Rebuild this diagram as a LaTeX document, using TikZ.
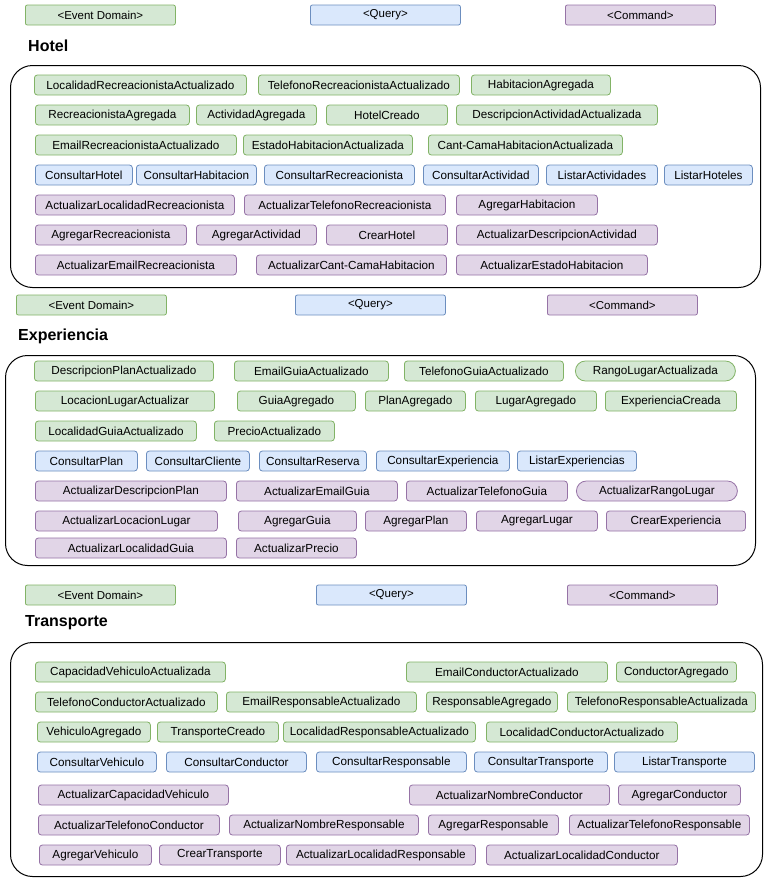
\documentclass[tikz,border=0pt]{standalone}
\usepackage{fontspec}
\setmainfont{Liberation Sans}
\definecolor{evfill}{HTML}{D5E8D4}
\definecolor{evline}{HTML}{82B366}
\definecolor{qrfill}{HTML}{DAE8FC}
\definecolor{qrline}{HTML}{6C8EBF}
\definecolor{cmfill}{HTML}{E1D5E7}
\definecolor{cmline}{HTML}{9673A6}
\tikzset{
  box/.style={draw, rounded corners=3pt, line width=0.8pt, minimum height=20pt,
    inner sep=0pt, anchor=west, font=\fontsize{11.7}{13}\selectfont},
  ev/.style={box, fill=evfill, draw=evline, minimum width=#1},
  qr/.style={box, fill=qrfill, draw=qrline, minimum width=#1},
  cm/.style={box, fill=cmfill, draw=cmline, minimum width=#1},
  capsule/.style={rounded corners=10pt},
  legend/.style={box, rounded corners=2pt, font=\fontsize{11.5}{13}\selectfont, minimum width=150pt},
  ctx/.style={draw, fill=white, line width=1pt, rounded corners=22pt, inner sep=0pt, anchor=north west},
  title/.style={anchor=west, inner sep=0pt, font=\fontsize{16}{19}\selectfont\bfseries},
}
\begin{document}
\begin{tikzpicture}[x=1pt, y=-1pt]
\useasboundingbox (0,0) rectangle (766,881);

% Hotel
\node[legend, fill=evfill, draw=evline] (hLegEv) at (25,15) {<Event Domain>};
\node[legend, fill=qrfill, draw=qrline] (hLegQr) at (310,15) {<Query>};
\node[legend, fill=cmfill, draw=cmline] (hLegCm) at (565,15) {<Command>};
\node[title] (hTitle) at (28,46) {Hotel};
\node[ctx, minimum width=750pt, minimum height=222pt] (hBox) at (10,65) {};

\node[ev=212pt] (hLocRecAct) at (34,85) {LocalidadRecreacionistaActualizado};
\node[ev=201pt] (hTelRecAct) at (258,85) {TelefonoRecreacionistaActualizado};
\node[ev=139pt] (hHabAgr) at (471,85) {HabitacionAgregada};

\node[ev=154pt] (hRecAgr) at (35,115) {RecreacionistaAgregada};
\node[ev=120pt] (hActAgr) at (196,115) {ActividadAgregada};
\node[ev=121pt] (hHotCre) at (326,115) {HotelCreado};
\node[ev=201pt] (hDesActAct) at (456,115) {DescripcionActividadActualizada};

\node[ev=201pt] (hEmaRecAct) at (35,145) {EmailRecreacionistaActualizado};
\node[ev=169pt] (hEstHabAct) at (243,145) {EstadoHabitacionActualizada};
\node[ev=194pt] (hCamHabAct) at (428,145) {Cant-CamaHabitacionActualizada};

\node[qr=97pt] (hConHot) at (35,175) {ConsultarHotel};
\node[qr=120pt] (hConHab) at (136,175) {ConsultarHabitacion};
\node[qr=150pt] (hConRec) at (264,175) {ConsultarRecreacionista};
\node[qr=115pt] (hConAct) at (423,175) {ConsultarActividad};
\node[qr=111pt] (hLisAct) at (546,175) {ListarActividades};
\node[qr=88pt] (hLisHot) at (664,175) {ListarHoteles};

\node[cm=199pt] (hActLocRec) at (35,205) {ActualizarLocalidadRecreacionista};
\node[cm=201pt] (hActTelRec) at (244,205) {ActualizarTelefonoRecreacionista};
\node[cm=141pt] (hAgrHab) at (456,205) {AgregarHabitacion};

\node[cm=151pt] (hAgrRec) at (35,235) {AgregarRecreacionista};
\node[cm=120pt] (hAgrAct) at (196,235) {AgregarActividad};
\node[cm=121pt] (hCreHot) at (326,235) {CrearHotel};
\node[cm=201pt] (hActDesAct) at (456,235) {ActualizarDescripcionActividad};

\node[cm=201pt] (hActEmaRec) at (35,265) {ActualizarEmailRecreacionista};
\node[cm=190pt] (hActCamHab) at (256,265) {ActualizarCant-CamaHabitacion};
\node[cm=191pt] (hActEstHab) at (456,265) {ActualizarEstadoHabitacion};

% Experiencia
\node[legend, fill=evfill, draw=evline] (eLegEv) at (16,305) {<Event Domain>};
\node[legend, fill=qrfill, draw=qrline] (eLegQr) at (295,305) {<Query>};
\node[legend, fill=cmfill, draw=cmline] (eLegCm) at (547,305) {<Command>};
\node[title] (eTitle) at (18,336) {Experiencia};
\node[ctx, minimum width=750pt, minimum height=210pt] (eBox) at (5,355) {};

\node[ev=179pt] (eDesPlaAct) at (34,371) {DescripcionPlanActualizado};
\node[ev=154pt] (eEmaGuiAct) at (234,371) {EmailGuiaActualizado};
\node[ev=159pt] (eTelGuiAct) at (404,371) {TelefonoGuiaActualizado};
\node[ev=160pt, capsule] (eRanLugAct) at (575,371) {RangoLugarActualizada};

\node[ev=179pt] (eLocLugAct) at (35,401) {LocacionLugarActualizar};
\node[ev=118pt] (eGuiAgr) at (237,401) {GuiaAgregado};
\node[ev=100pt] (ePlaAgr) at (365,401) {PlanAgregado};
\node[ev=121pt] (eLugAgr) at (475,401) {LugarAgregado};
\node[ev=131pt] (eExpCre) at (605,401) {ExperienciaCreada};

\node[ev=161pt] (eLocGuiAct) at (35,431) {LocalidadGuiaActualizado};
\node[ev=120pt] (ePreAct) at (214,431) {PrecioActualizado};

\node[qr=102pt] (eConPla) at (35,461) {ConsultarPlan};
\node[qr=103pt] (eConCli) at (146,461) {ConsultarCliente};
\node[qr=107pt] (eConRes) at (259,461) {ConsultarReserva};
\node[qr=133pt] (eConExp) at (376,461) {ConsultarExperiencia};
\node[qr=119pt] (eLisExp) at (517,461) {ListarExperiencias};

\node[cm=191pt] (eActDesPla) at (35,491) {ActualizarDescripcionPlan};
\node[cm=161pt] (eActEmaGui) at (236,491) {ActualizarEmailGuia};
\node[cm=161pt] (eActTelGui) at (406,491) {ActualizarTelefonoGuia};
\node[cm=161pt, capsule] (eActRanLug) at (576,491) {ActualizarRangoLugar};

\node[cm=182pt] (eActLocLug) at (35,521) {ActualizarLocacionLugar};
\node[cm=118pt] (eAgrGui) at (238,521) {AgregarGuia};
\node[cm=101pt] (eAgrPla) at (365,521) {AgregarPlan};
\node[cm=121pt] (eAgrLug) at (476,521) {AgregarLugar};
\node[cm=139pt] (eCreExp) at (606,521) {CrearExperiencia};

\node[cm=191pt] (eActLocGui) at (35,548) {ActualizarLocalidadGuia};
\node[cm=120pt] (eActPre) at (236,548) {ActualizarPrecio};

% Transporte
\node[legend, fill=evfill, draw=evline] (tLegEv) at (25,595) {<Event Domain>};
\node[legend, fill=qrfill, draw=qrline] (tLegQr) at (316,595) {<Query>};
\node[legend, fill=cmfill, draw=cmline] (tLegCm) at (567,595) {<Command>};
\node[title] (tTitle) at (25,623) {Transporte};
\node[ctx, minimum width=752pt, minimum height=234pt] (tBox) at (10,642) {};

\node[ev=190pt] (tCapVehAct) at (35,672) {CapacidadVehiculoActualizada};
\node[ev=201pt] (tEmaConAct) at (406,672) {EmailConductorActualizado};
\node[ev=120pt] (tConAgr) at (616,672) {ConductorAgregado};

\node[ev=182pt] (tTelConAct) at (35,702) {TelefonoConductorActualizado};
\node[ev=190pt] (tEmaResAct) at (226,702) {EmailResponsableActualizado};
\node[ev=131pt] (tResAgr) at (426,702) {ResponsableAgregado};
\node[ev=188pt] (tTelResAct) at (567,702) {TelefonoResponsableActualizada};

\node[ev=113pt] (tVehAgr) at (37,732) {VehiculoAgregado};
\node[ev=121pt] (tTraCre) at (157,732) {TransporteCreado};
\node[ev=192pt] (tLocResAct) at (283,732) {LocalidadResponsableActualizado};
\node[ev=191pt] (tLocConAct) at (486,732) {LocalidadConductorActualizado};

\node[qr=119pt] (tConVeh) at (37,762) {ConsultarVehiculo};
\node[qr=140pt] (tConCon) at (166,762) {ConsultarConductor};
\node[qr=150pt] (tConRes) at (316,762) {ConsultarResponsable};
\node[qr=133pt] (tConTra) at (474,762) {ConsultarTransporte};
\node[qr=140pt] (tLisTra) at (614,762) {ListarTransporte};

\node[cm=190pt] (tActCapVeh) at (38,795) {ActualizarCapacidadVehiculo};
\node[cm=200pt] (tActNomCon) at (409,795) {ActualizarNombreConductor};
\node[cm=122pt] (tAgrCon) at (618,795) {AgregarConductor};

\node[cm=181pt] (tActTelCon) at (38,825) {ActualizarTelefonoConductor};
\node[cm=189pt] (tActNomRes) at (229,825) {ActualizarNombreResponsable};
\node[cm=130pt] (tAgrRes) at (428,825) {AgregarResponsable};
\node[cm=180pt] (tActTelRes) at (569,825) {ActualizarTelefonoResponsable};

\node[cm=112pt] (tAgrVeh) at (39,855) {AgregarVehiculo};
\node[cm=121pt] (tCreTra) at (159,855) {CrearTransporte};
\node[cm=189pt] (tActLocRes) at (286,855) {ActualizarLocalidadResponsable};
\node[cm=191pt] (tActLocCon) at (486,855) {ActualizarLocalidadConductor};
\end{tikzpicture}
\end{document}
